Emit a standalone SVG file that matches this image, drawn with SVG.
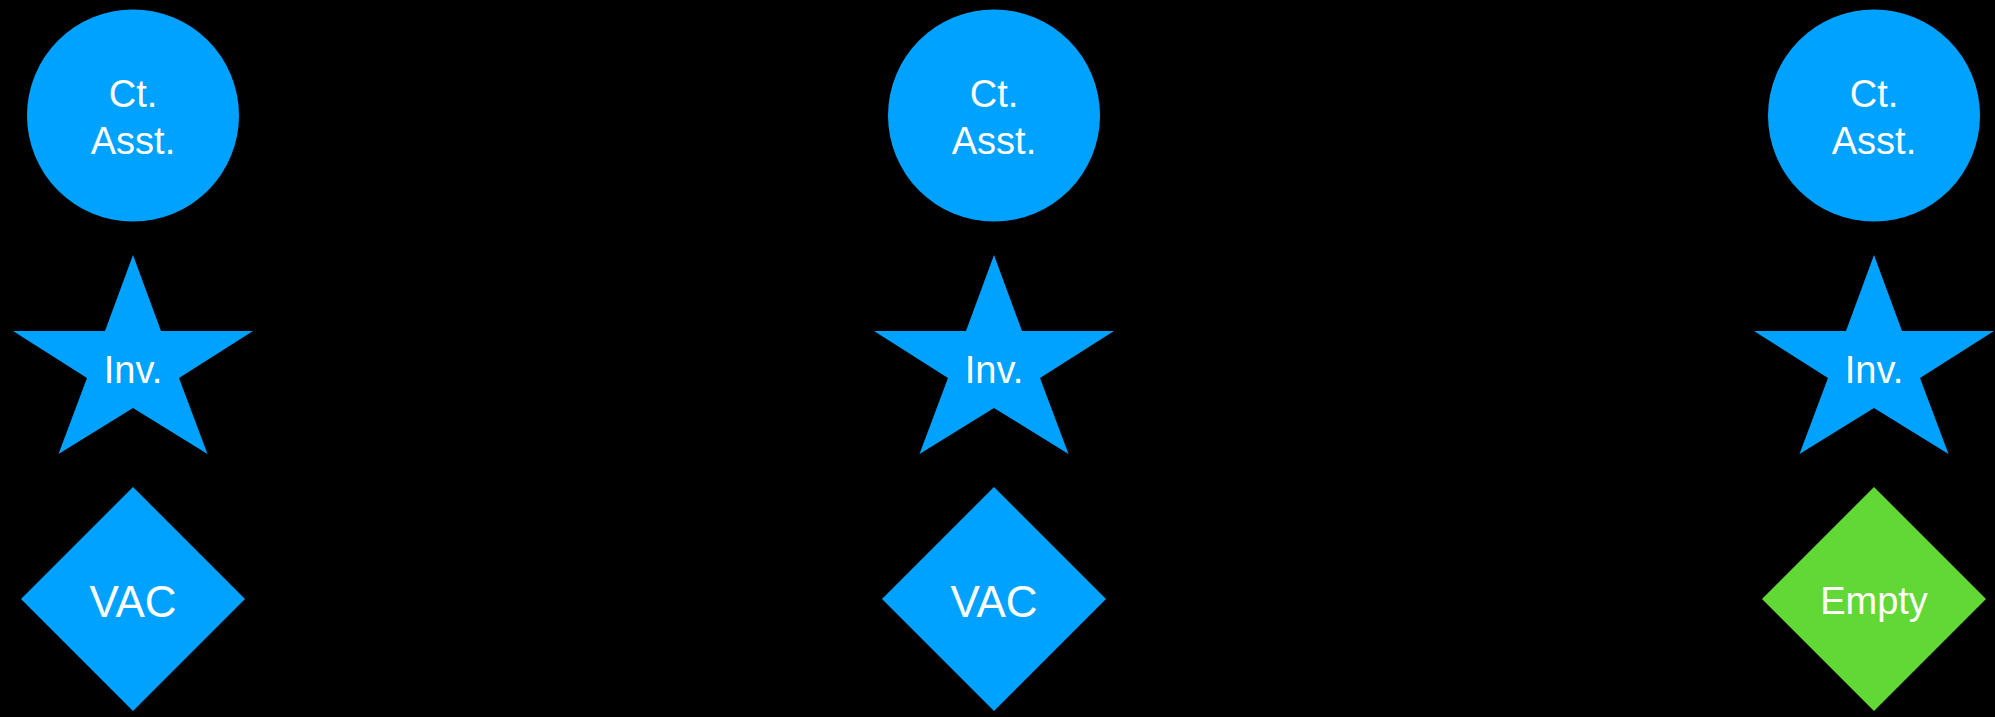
<svg xmlns="http://www.w3.org/2000/svg" width="1995" height="717" viewBox="0 0 1995 717">
<style>
.blue{fill:#00A2FF}
.green{fill:#61D836}
.lbl{fill:#FFFFFF;font-family:"Liberation Sans",Arial,sans-serif;font-size:38px;text-anchor:middle}
.big{font-size:44px}
</style>
<defs>
<polygon id="star" points="0,255 28,331 120,331 46,378 74.5,454 0,408 -74.5,454 -46,378 -120,331 -28,331"/>
<polygon id="diamond" points="0,487 112,599 0,711 -112,599"/>
</defs>
<rect width="1995" height="717" fill="#000000"/>
<g id="connectors"></g>
<g id="col1-circle" transform="translate(133,0)">
<circle class="blue" cx="0" cy="115.5" r="106"/>
<text class="lbl" x="0" y="107">Ct.</text>
<text class="lbl" x="0" y="154">Asst.</text>
</g>
<g id="col1-star" transform="translate(133,0)">
<use href="#star" class="blue"/>
<text class="lbl" x="0" y="383">Inv.</text>
</g>
<g id="col1-diamond" transform="translate(133,0)">
<use href="#diamond" class="blue"/>
<text class="lbl big" x="0" y="616.5">VAC</text>
</g>
<g id="col2-circle" transform="translate(994,0)">
<circle class="blue" cx="0" cy="115.5" r="106"/>
<text class="lbl" x="0" y="107">Ct.</text>
<text class="lbl" x="0" y="154">Asst.</text>
</g>
<g id="col2-star" transform="translate(994,0)">
<use href="#star" class="blue"/>
<text class="lbl" x="0" y="383">Inv.</text>
</g>
<g id="col2-diamond" transform="translate(994,0)">
<use href="#diamond" class="blue"/>
<text class="lbl big" x="0" y="616.5">VAC</text>
</g>
<g id="col3-circle" transform="translate(1874,0)">
<circle class="blue" cx="0" cy="115.5" r="106"/>
<text class="lbl" x="0" y="107">Ct.</text>
<text class="lbl" x="0" y="154">Asst.</text>
</g>
<g id="col3-star" transform="translate(1874,0)">
<use href="#star" class="blue"/>
<text class="lbl" x="0" y="383">Inv.</text>
</g>
<g id="col3-diamond" transform="translate(1874,0)">
<use href="#diamond" class="green"/>
<text class="lbl" x="0" y="614">Empty</text>
</g>
</svg>
